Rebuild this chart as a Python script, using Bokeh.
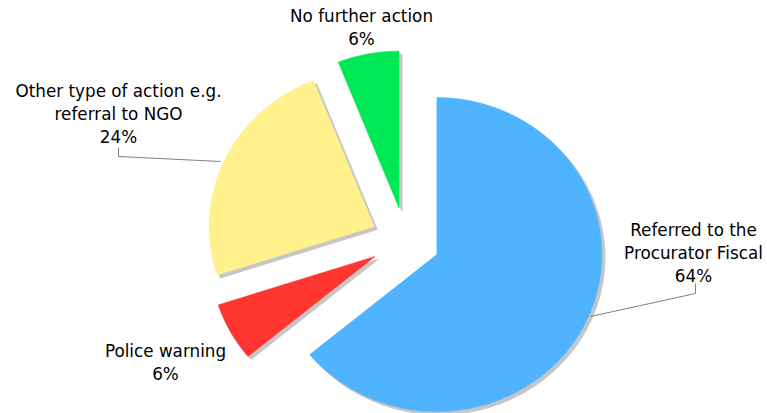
import numpy as np
from bokeh.plotting import figure
from bokeh.models import ColumnDataSource
from bokeh.core.properties import value
from bokeh.embed import file_html
from bokeh.resources import INLINE

# ---- data ----
categories = ["Referred to the\nProcurator Fiscal", "Police warning",
              "Other type of action e.g.\nreferral to NGO", "No further action"]
percentages = [64, 6, 24, 6]
colors = ["#4FB3FF", "#FF3530", "#FFF28D", "#00E855"]

# ---- layout (pixels) ----
W, H = 767, 413
CX, CY = 405, 240      # pie centre
RX, RY = 165, 157      # pixels per unit radius
EXPLODE = 0.21
SHADOW = 3
label_pos = [(693, 252), (165, 362), (118, 113), (361, 27)]
leaders = {0: [(695, 283), (695, 293), (590, 316)],
           2: [(118, 147), (118, 156), (220, 161)]}


def to_data(x, y):
    return (x - CX) / RX, (CY - y) / RY


p = figure(width=W, height=H,
           x_range=(-CX / RX, (W - CX) / RX),
           y_range=((CY - H) / RY, CY / RY),
           x_axis_type=None, y_axis_type=None,
           output_backend="svg", toolbar_location=None, min_border=0)
p.grid.visible = False
p.outline_line_color = None
p.background_fill_color = "white"
p.border_fill_color = "white"

total = float(sum(percentages))
start = np.pi / 2
shapes = []
for pct in percentages:
    sweep = pct / total * 2 * np.pi
    a0, a1 = start, start - sweep
    mid = (a0 + a1) / 2
    ox, oy = EXPLODE * np.cos(mid), EXPLODE * np.sin(mid)
    t = np.linspace(a0, a1, 200)
    xs = np.concatenate([[0.0], np.cos(t)]) + ox
    ys = np.concatenate([[0.0], np.sin(t)]) + oy
    shapes.append((xs, ys))
    start = a1

shadow_src = ColumnDataSource(dict(
    xs=[list(s[0] + SHADOW / RX) for s in shapes],
    ys=[list(s[1] - SHADOW / RY) for s in shapes]))
p.patches("xs", "ys", source=shadow_src, fill_color="#c6c6c6", line_color="#c6c6c6",
          line_width=1)

slice_src = ColumnDataSource(dict(
    xs=[list(s[0]) for s in shapes],
    ys=[list(s[1]) for s in shapes],
    color=colors))
p.patches("xs", "ys", source=slice_src, fill_color="color", line_color="color",
          line_width=0.5)

# leader lines
for idx, pts in leaders.items():
    d = [to_data(*pt) for pt in pts]
    p.line([q[0] for q in d], [q[1] for q in d], line_color="#808080", line_width=1)

# labels
lx, ly = zip(*[to_data(*pt) for pt in label_pos])
texts = [f"{c}\n{v}%" for c, v in zip(categories, percentages)]
p.text(x=list(lx), y=list(ly), text=texts, text_align="center", text_baseline="middle",
       text_font=value("DejaVu Sans"), text_font_size="16.8px", text_color="#000000",
       text_line_height=1.15)

open("out.html", "w").write(file_html(p, INLINE))
